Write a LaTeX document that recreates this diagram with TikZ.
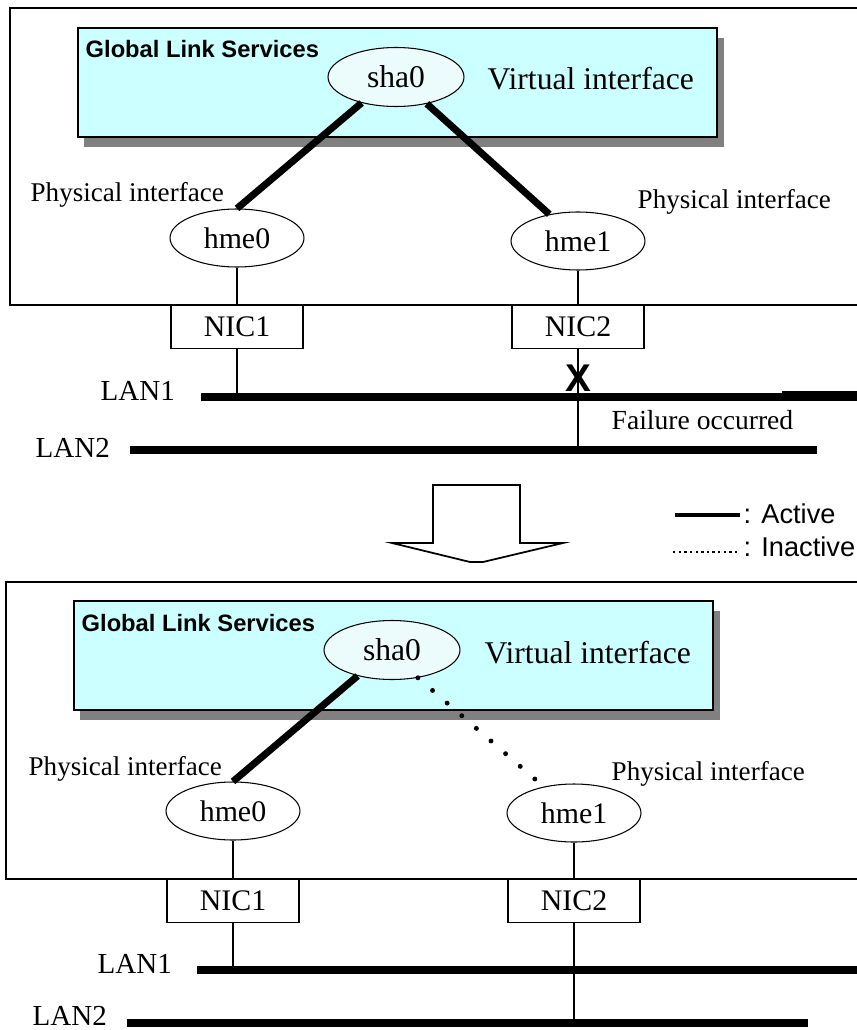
\documentclass[tikz,border=0pt]{standalone}
\usepackage{fontspec}
\setmainfont{Liberation Serif}
\newfontfamily\sansfont{Liberation Sans}
\usetikzlibrary{shapes.geometric}
\definecolor{glsblue}{RGB}{204,255,255}
\definecolor{glsshadow}{RGB}{128,128,128}
\definecolor{shafill}{RGB}{236,252,252}

\begin{document}
\begin{tikzpicture}[x=0.02cm,y=-0.02cm]
	\useasboundingbox (0,0) rectangle (857,1030);
	\begin{scope}[line width=0.8pt]
		\tikzstyle{iface}=[draw,ellipse,fill=white,line width=0.6pt,minimum width=2.68cm,minimum height=1.16cm,inner sep=0pt,font=\fontsize{17}{17}\selectfont];
		\tikzstyle{virt}=[iface,fill=shafill,minimum width=2.72cm,minimum height=1.18cm,font=\fontsize{18}{18}\selectfont];
		\tikzstyle{nic}=[draw,rectangle,fill=white,line width=0.8pt,minimum width=2.64cm,minimum height=0.87cm,inner sep=0pt,font=\fontsize{17}{17}\selectfont];
		\tikzstyle{txt}=[inner sep=0pt,anchor=base west];
		\tikzstyle{gls}=[txt,font=\sansfont\bfseries\fontsize{13.5}{13.5}\selectfont];
		\tikzstyle{phys}=[txt,font=\fontsize{15.4}{15.4}\selectfont];
		\tikzstyle{big}=[txt,font=\fontsize{18}{18}\selectfont];
		\tikzstyle{lanlabel}=[txt,font=\fontsize{16.5}{16.5}\selectfont];
		\tikzstyle{legendtext}=[txt,font=\sansfont\fontsize{15.5}{15.5}\selectfont];
		\tikzstyle{active}=[line width=4pt];
		\tikzstyle{inactive}=[line width=2.8pt,line cap=round,dash pattern=on 0pt off 11pt];
		\tikzstyle{lan}=[line width=4.2pt];

		\draw (857,8) -- (10,8) -- (10,305) -- (857,305);
		\fill[glsshadow] (84,38) rectangle (724,147);
		\draw[fill=glsblue] (78,28) rectangle (717,137);
		\path (85,58)   node (glsa)  [gls] {Global Link Services};
		\path (396,77)  node (sha0a) [virt] {sha0};
		\path (487,90)  node (virta) [big] {Virtual interface};
		\path (237,238) node (hme0a) [iface] {hme0};
		\path (578,241) node (hme1a) [iface] {hme1};
		\path (30,202)  node (phys0a) [phys] {Physical interface};
		\path (637,209) node (phys1a) [phys] {Physical interface};
		\path (237,327) node (nic1a) [nic] {NIC1};
		\path (578,327) node (nic2a) [nic] {NIC2};
		\path (100,400) node (lan1labela) [lanlabel] {LAN1};
		\path (35,457)  node (lan2labela) [lanlabel] {LAN2};
		\path (611,429) node (faila) [lanlabel,font=\fontsize{15.7}{15.7}\selectfont] {Failure occurred};
		\coordinate (lan1aW) at (201,397);
		\coordinate (lan1aE) at (857,397);
		\coordinate (lan1aF) at (782,396);
		\coordinate (lan2aW) at (130,450);
		\coordinate (lan2aE) at (817,450);
		\coordinate (tap1a) at (237,397);
		\coordinate (tap2a) at (578,450);
		\draw[active] (sha0a.217) -- (hme0a.north);
		\draw[active] (sha0a.319) -- (hme1a.137);
		\draw (hme0a) -- (nic1a);
		\draw (hme1a) -- (nic2a);
		\draw (nic1a) -- (tap1a);
		\draw (nic2a) -- (tap2a);
		\draw[lan] (lan1aW) -- (lan1aE);
		\draw[line width=6pt] (lan1aF) -- (lan1aE |- lan1aF);
		\draw[lan] (lan2aW) -- (lan2aE);
		\path (578,378) node (xmark) [inner sep=0pt,font=\sansfont\bfseries\fontsize{22}{22}\selectfont] {X};

		\draw[line width=1pt] (433,485) -- (520,485) -- (520,543) -- (563,543) -- (483,562) -- (470,562) -- (392,543) -- (433,543) -- cycle;
		\coordinate (act1) at (675,515);
		\coordinate (act2) at (740,515);
		\coordinate (inact1) at (673,552);
		\coordinate (inact2) at (738,552);
		\draw[line width=2.2pt] (act1) -- (act2);
		\draw[line width=1.1pt,dash pattern=on 1.4pt off 1.8pt] (inact1) -- (inact2);
		\path (743,523) node (actlabel) [legendtext] {: Active};
		\path (743,556) node (inactlabel) [legendtext] {: Inactive};

		\draw (857,582) -- (6,582) -- (6,879) -- (857,879);
		\fill[glsshadow] (80,611) rectangle (720,720);
		\draw[fill=glsblue] (74,601) rectangle (713,710);
		\path (81,631)  node (glsb)  [gls] {Global Link Services};
		\path (392,650) node (sha0b) [virt] {sha0};
		\path (484,663) node (virtb) [big] {Virtual interface};
		\path (233,811) node (hme0b) [iface] {hme0};
		\path (574,813) node (hme1b) [iface] {hme1};
		\path (28,775)  node (phys0b) [phys] {Physical interface};
		\path (611,780) node (phys1b) [phys] {Physical interface};
		\path (233,901) node (nic1b) [nic] {NIC1};
		\path (574,901) node (nic2b) [nic] {NIC2};
		\path (97,973)  node (lan1labelb) [lanlabel] {LAN1};
		\path (32,1025) node (lan2labelb) [lanlabel] {LAN2};
		\coordinate (lan1bW) at (197,970);
		\coordinate (lan1bE) at (857,970);
		\coordinate (lan2bW) at (127,1023);
		\coordinate (lan2bE) at (808,1023);
		\coordinate (tap1b) at (233,970);
		\coordinate (tap2b) at (574,1023);
		\draw[active] (sha0b.217) -- (hme0b.north);
		\draw[inactive] (sha0b.313) -- (hme1b.139);
		\draw (hme0b) -- (nic1b);
		\draw (hme1b) -- (nic2b);
		\draw (nic1b) -- (tap1b);
		\draw (nic2b) -- (tap2b);
		\draw[lan] (lan1bW) -- (lan1bE);
		\draw[lan] (lan2bW) -- (lan2bE);
	\end{scope}
\end{tikzpicture}
\end{document}
